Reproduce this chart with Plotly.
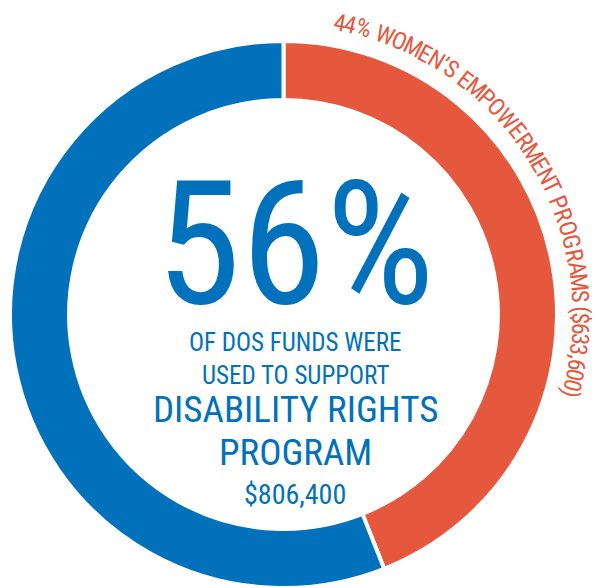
import math
import plotly.graph_objects as go

# ---- data ----
labels = ["Women’s Empowerment Programs", "Disability Rights Program"]
amounts = [633600, 806400]
shares = [44, 56]
colors = ["#E6583E", "#0071BA"]

arc_label = "44% WOMEN’S EMPOWERMENT PROGRAMS ($633,600)"
center_lines = [
    "56%",
    "OF DOS FUNDS WERE",
    "USED TO SUPPORT",
    "DISABILITY RIGHTS",
    "PROGRAM",
    "$806,400",
]

# page body has an 8px margin; work in window pixels and convert
OFF = 8
W, H = 600 - OFF, 588 - OFF
FONT = "Liberation Sans Narrow, Roboto Condensed, DejaVu Sans Condensed, Arial Narrow, sans-serif"


def fx(px):
    return (px - OFF) / W


def fy(py):
    return 1 - (py - OFF) / H


# pie geometry (window pixels)
cx, cy, R = 283.5, 314.5, 273.5
hole = 0.784

fig = go.Figure(
    go.Pie(
        labels=labels,
        values=amounts,
        sort=False,
        direction="clockwise",
        rotation=0,
        hole=hole,
        marker=dict(colors=colors, line=dict(color="white", width=4)),
        textinfo="none",
        hoverinfo="label+value+percent",
        showlegend=False,
        domain=dict(x=[fx(cx - R), fx(cx + R)], y=[fy(cy + R), fy(cy - R)]),
    )
)

annotations = []

# ---- curved label along the outside of the ring ----
adv = {
    "4": 556, "%": 889, " ": 278, "W": 944, "O": 778, "M": 833, "E": 667, "N": 722,
    "’": 222, "S": 667, "P": 667, "R": 722, "T": 611, "G": 778, "A": 667,
    "(": 333, "$": 556, "6": 556, "3": 556, ",": 278, "0": 556, ")": 333,
}
fs_arc = 24
r_mid = 297.0
start_deg, end_deg = 10.0, 106.0
total = sum(adv.get(ch, 600) for ch in arc_label)
pos = 0.0
for ch in arc_label:
    w = adv.get(ch, 600)
    ang = start_deg + (end_deg - start_deg) * (pos + w / 2) / total
    pos += w
    if ch == " ":
        continue
    a = math.radians(ang)
    px = cx + r_mid * math.sin(a)
    py = cy - r_mid * math.cos(a)
    annotations.append(dict(
        text=ch, x=fx(px), y=fy(py), xref="paper", yref="paper",
        xanchor="center", yanchor="middle", showarrow=False, textangle=ang,
        font=dict(family=FONT, size=fs_arc, color=colors[0]),
    ))

# ---- center text ----
tx = 295
line_y = [244, 342, 375, 409, 452, 494]
line_size = [172, 25, 25, 37, 37, 28]
for txt, yy, sz in zip(center_lines, line_y, line_size):
    annotations.append(dict(
        text=txt, x=fx(tx), y=fy(yy), xref="paper", yref="paper",
        xanchor="center", yanchor="middle", showarrow=False,
        font=dict(family=FONT, size=sz, color=colors[1]),
    ))

fig.update_layout(
    width=W, height=H,
    margin=dict(l=0, r=0, t=0, b=0),
    paper_bgcolor="white", plot_bgcolor="white",
    annotations=annotations,
)

fig.write_html("out.html")
